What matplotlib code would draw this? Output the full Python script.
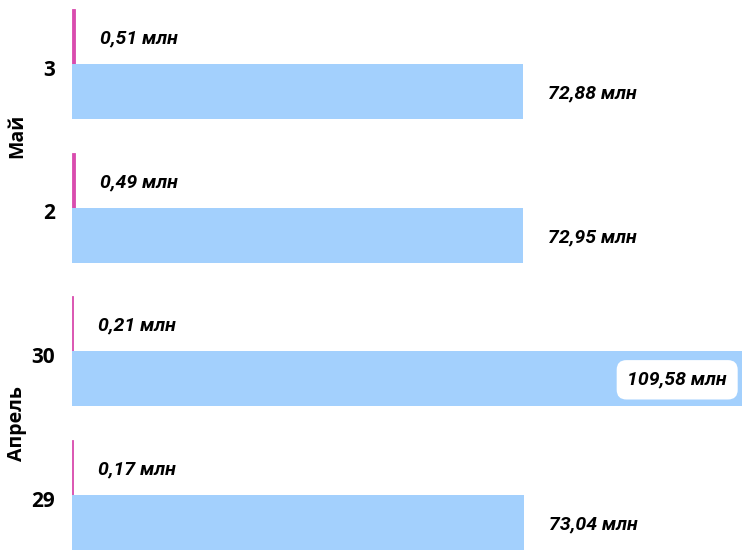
import matplotlib.pyplot as plt
from matplotlib.transforms import offset_copy

days = ["3", "2", "30", "29"]
months = ["Май", "Май", "Апрель", "Апрель"]
pink_vals = [0.51, 0.49, 0.21, 0.17]
blue_vals = [72.88, 72.95, 109.58, 73.04]

pink = "#d94cae"
blue = "#a3d0fd"

fig = plt.figure(figsize=(7.42, 5.5), dpi=100)
ax = fig.add_axes([72 / 742, 0, 670 / 742, 1])

h = 0.383
ys = list(range(len(days)))
ax.barh([y - h / 2 for y in ys], pink_vals, height=h, color=pink, edgecolor=pink, linewidth=0.6)
ax.barh([y + h / 2 for y in ys], blue_vals, height=h, color=blue)

ax.set_xlim(0, 108.3)
y_lo, y_hi = 3.383, -0.445
ax.set_ylim(y_lo, y_hi)

def fmt(v):
    return f"{v:.2f}".replace(".", ",") + " млн"

vfont = dict(family="Roboto", weight="bold", style="italic", size=14)

for y, v in zip(ys, pink_vals):
    tr = offset_copy(ax.transData, fig=fig, x=25, y=-2, units="dots")
    ax.text(v, y - h / 2, fmt(v), transform=tr, ha="left", va="center", **vfont)

for y, v in zip(ys, blue_vals):
    if v > ax.get_xlim()[1] * 0.8:
        tr = offset_copy(ax.get_yaxis_transform(), fig=fig, x=-15, y=-1, units="dots")
        ax.text(1, y + h / 2, fmt(v), transform=tr, ha="right", va="center",
                bbox=dict(boxstyle="round,pad=0.55,rounding_size=0.5", fc="white", ec="none"), **vfont)
    else:
        tr = offset_copy(ax.transData, fig=fig, x=25, y=-2, units="dots")
        ax.text(v, y + h / 2, fmt(v), transform=tr, ha="left", va="center", **vfont)

ax.set_yticks([y + 0.025 for y in ys])
ax.set_yticklabels(days, fontfamily="Open Sans", fontweight="bold", fontsize=15)
ax.tick_params(axis="y", length=0, pad=12)
ax.set_xticks([])
for s in ax.spines.values():
    s.set_visible(False)

# подписи месяцев
groups = {}
for y, m in zip(ys, months):
    groups.setdefault(m, []).append(y)
for m, g in groups.items():
    yc = sum(g) / len(g)
    tr = offset_copy(ax.get_yaxis_transform(), fig=fig, x=-55, y=0, units="dots")
    ax.text(0, yc, m, transform=tr, rotation=90, ha="center", va="center",
            fontfamily="Open Sans", fontweight="bold", fontsize=14)

fig.savefig("out.png", dpi=100)
